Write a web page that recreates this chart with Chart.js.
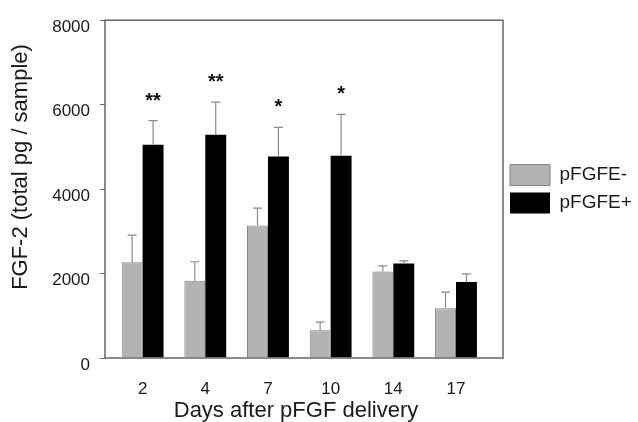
<!DOCTYPE html>
<html>
<head>
<meta charset="utf-8">
<script src="https://cdn.jsdelivr.net/npm/chart.js@4"></script>
<style>
  html, body { margin: 0; padding: 0; background: #fff; }
  #wrap { width: 638px; height: 422px; }
</style>
</head>
<body>
<div id="wrap"><canvas id="fgfChart"></canvas></div>
<script>
const days = ['2', '4', '7', '10', '14', '17'];
const minusValues = [2270, 1830, 3140, 660, 2050, 1180];
const minusErrors = [640, 450, 410, 190, 130, 380];
const plusValues = [5050, 5290, 4770, 4790, 2240, 1800];
const plusErrors = [570, 770, 690, 980, 60, 190];
const stars = ['**', '**', '*', '*', '', ''];
const yTicks = [0, 2000, 4000, 6000, 8000];

const FONT = '"Liberation Sans", Arial, sans-serif';

// error bars (up only), asterisks, frame and axis titles
const extras = {
  id: 'extras',
  afterDatasetsDraw(chart) {
    const ctx = chart.ctx;
    const y = chart.scales.y;
    const area = chart.chartArea;
    const errs = [minusErrors, plusErrors];
    const vals = [minusValues, plusValues];

    ctx.save();
    ctx.strokeStyle = '#8a8a8a';
    ctx.lineWidth = 1.2;
    [0, 1].forEach(d => {
      chart.getDatasetMeta(d).data.forEach((bar, i) => {
        const y0 = y.getPixelForValue(vals[d][i]);
        const y1 = y.getPixelForValue(vals[d][i] + errs[d][i]);
        ctx.beginPath();
        ctx.moveTo(bar.x, y0);
        ctx.lineTo(bar.x, y1);
        ctx.moveTo(bar.x - 4.5, y1);
        ctx.lineTo(bar.x + 4.5, y1);
        ctx.stroke();
      });
    });

    ctx.fillStyle = '#111';
    ctx.font = 'bold 20px ' + FONT;
    ctx.textAlign = 'center';
    ctx.textBaseline = 'alphabetic';
    chart.getDatasetMeta(1).data.forEach((bar, i) => {
      if (!stars[i]) return;
      const top = y.getPixelForValue(plusValues[i] + plusErrors[i]);
      ctx.fillText(stars[i], bar.x, top - 14);
    });

    ctx.strokeStyle = '#666';
    ctx.lineWidth = 1.5;
    ctx.strokeRect(area.left, area.top, area.right - area.left, area.bottom - area.top);

    ctx.fillStyle = '#1a1a1a';
    ctx.font = '22px ' + FONT;
    ctx.fillText('Days after pFGF delivery', 296, 417);

    ctx.translate(27, 167);
    ctx.rotate(-Math.PI / 2);
    ctx.font = '22px ' + FONT;
    ctx.fillText('FGF-2 (total pg / sample)', 0, 0);
    ctx.restore();
  }
};

new Chart(document.getElementById('fgfChart'), {
  type: 'bar',
  data: {
    datasets: [{
      label: 'pFGFE-',
      data: minusValues.map((v, i) => ({ x: i, y: v })),
      backgroundColor: '#b3b3b3',
      borderColor: '#808080',
      borderWidth: 1
    }, {
      label: 'pFGFE+',
      data: plusValues.map((v, i) => ({ x: i, y: v })),
      backgroundColor: '#000',
      borderColor: '#000',
      borderWidth: 0
    }]
  },
  options: {
    responsive: true,
    maintainAspectRatio: false,
    animation: false,
    datasets: { bar: { barPercentage: 1, categoryPercentage: 0.668 } },
    layout: { padding: { top: 13, right: 0, bottom: 0, left: 0 } },
    plugins: {
      legend: {
        position: 'right',
        fullSize: false,
        maxWidth: 135,
        labels: {
          boxWidth: 40,
          boxHeight: 21,
          padding: 7,
          color: '#1a1a1a',
          font: { family: FONT, size: 19 }
        }
      },
      tooltip: { enabled: false }
    },
    scales: {
      x: {
        type: 'linear',
        offset: false,
        min: -0.6,
        max: 5.75,
        grid: { display: false },
        border: { display: false },
        afterBuildTicks: s => { s.ticks = days.map((d, i) => ({ value: i })); },
        afterFit: s => { s.height = 64; },
        ticks: {
          padding: 13,
          color: '#1a1a1a',
          font: { family: FONT, size: 17 },
          callback: v => days[v]
        }
      },
      y: {
        min: 0,
        max: 8000,
        grid: { drawOnChartArea: false, drawTicks: true, tickLength: 5, color: '#666' },
        border: { display: false },
        afterBuildTicks: s => { s.ticks = yTicks.map(v => ({ value: v })); },
        afterFit: s => { s.width = 105; },
        ticks: {
          padding: 10,
          labelOffset: 7,
          color: '#1a1a1a',
          font: { family: FONT, size: 17 },
          callback: v => String(v)
        }
      }
    }
  },
  plugins: [extras]
});
</script>
</body>
</html>
